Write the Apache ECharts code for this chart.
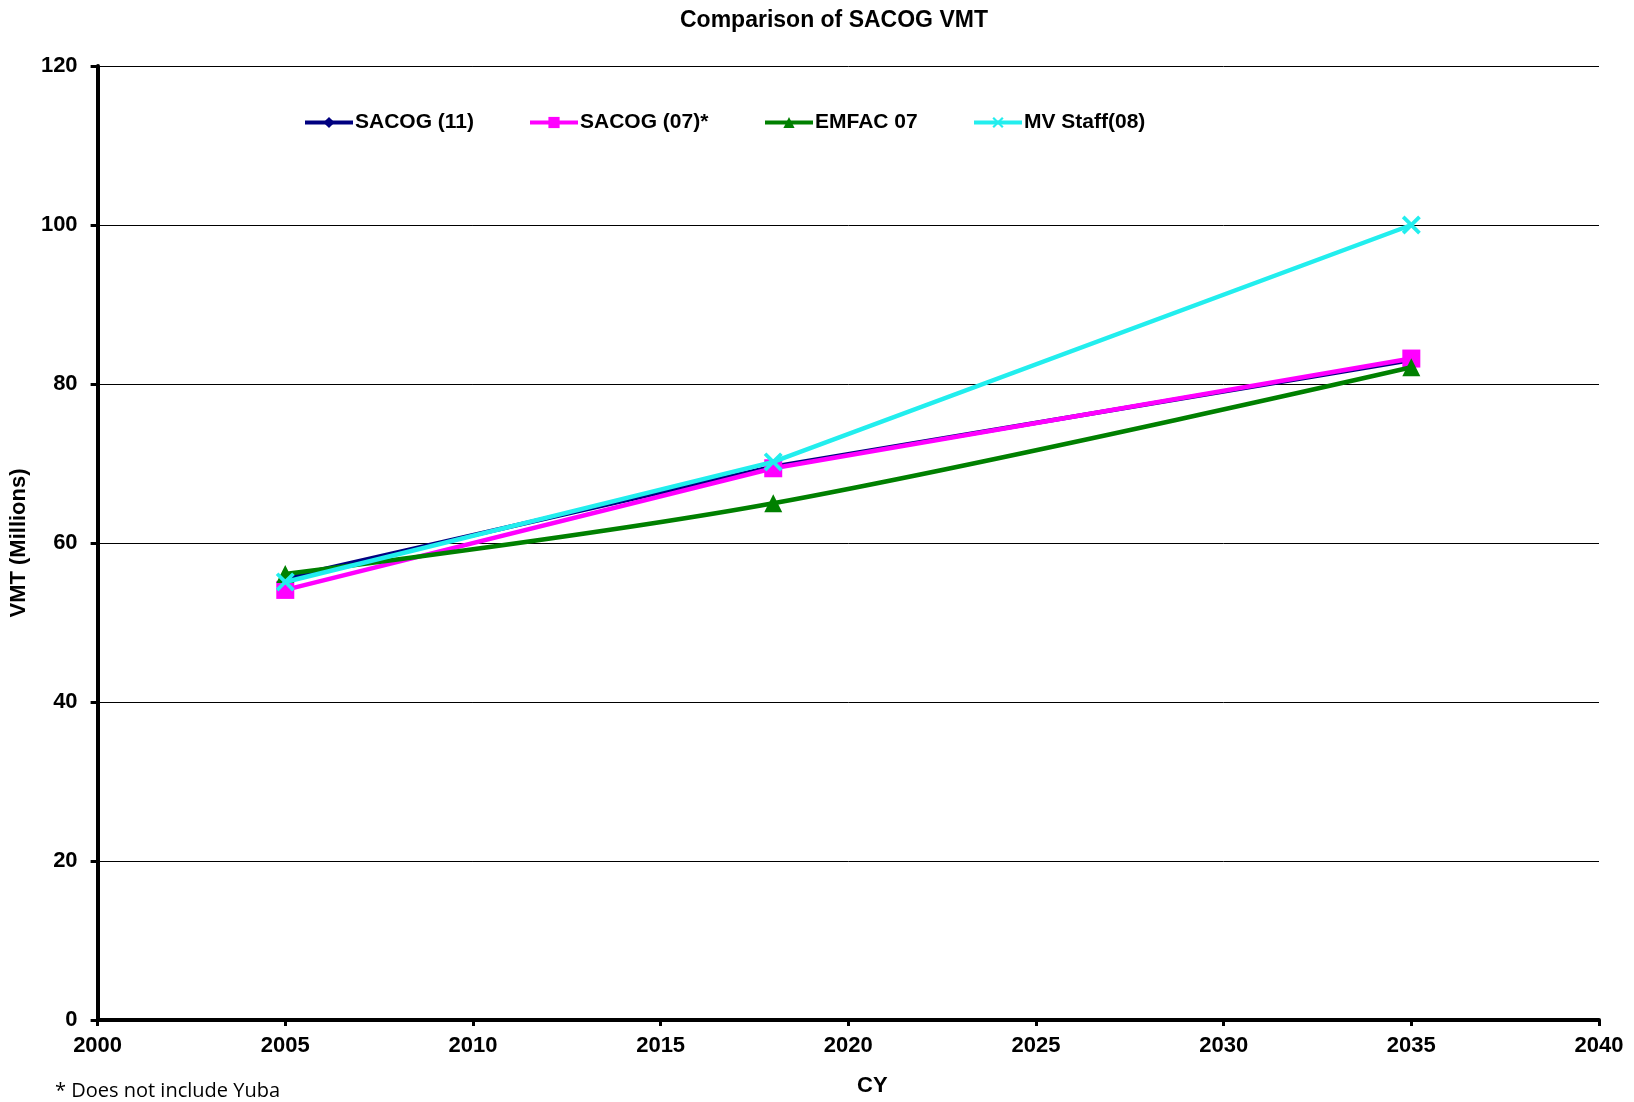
<!DOCTYPE html>
<html>
<head>
<meta charset="utf-8">
<script src="https://cdn.jsdelivr.net/npm/echarts@6/dist/echarts.min.js"></script>
<style>
html,body{margin:0;padding:0;background:#fff;}
#chart{width:1634px;height:1102px;}
</style>
</head>
<body>
<div id="chart"></div>
<script>
const years = [2005, 2018, 2035];
const seriesNames = ['SACOG (11)', 'SACOG (07)*', 'EMFAC 07', 'MV Staff(08)'];
const sacog11 = [55.6, 69.6, 83.0];
const sacog07 = [54.1, 69.4, 83.2];
const emfac07 = [56.1, 65.0, 82.1];
const mvStaff = [55.1, 70.2, 100.0];
const xTicks = [2000, 2040, 5];
const yTicks = [0, 120, 20];

const FONT = '"Liberation Sans", Arial, sans-serif';
const xPath = 'path://M0,1.4 L1.4,0 L5,3.6 L8.6,0 L10,1.4 L6.4,5 L10,8.6 L8.6,10 L5,6.4 L1.4,10 L0,8.6 L3.6,5 Z';

function pts(vals){ return years.map((y,i)=>[y, vals[i]]); }

const chart = echarts.init(document.getElementById('chart'), null, {renderer:'canvas'});
const legendLefts = [298, 523, 758, 967];
const legendStyle = {fontFamily: FONT, fontWeight: 'bold', fontSize: 21, color: '#000', padding: [0,0,0,-3]};

const option = {
  backgroundColor: '#fff',
  animation: false,
  title: {
    text: 'Comparison of SACOG VMT',
    left: 675, top: 4,
    textStyle: {fontFamily: FONT, fontWeight: 'bold', fontSize: 23, color: '#000'}
  },
  legend: seriesNames.map((n, i) => ({
    data: [n], left: legendLefts[i], top: 107, itemWidth: 48, itemHeight: 14,
    itemGap: 0, textStyle: legendStyle, selectedMode: false,
    lineStyle: {width: 4}
  })),
  grid: {left: 93, right: 35, top: 66, bottom: 82, containLabel: false},
  xAxis: {
    type: 'value', min: xTicks[0], max: xTicks[1], interval: xTicks[2],
    name: 'CY', nameLocation: 'middle', nameGap: 55,
    nameTextStyle: {fontFamily: FONT, fontWeight: 'bold', fontSize: 22, color: '#000', padding: [0,0,0,48]},
    axisLine: {show: true, lineStyle: {color: '#000', width: 4}},
    axisTick: {show: true, length: 6, lineStyle: {color: '#000', width: 3}},
    axisLabel: {fontFamily: FONT, fontWeight: 'bold', fontSize: 22, color: '#000', margin: 15,
      formatter: v => String(v)},
    splitLine: {show: false}
  },
  yAxis: {
    type: 'value', min: yTicks[0], max: yTicks[1], interval: yTicks[2],
    name: 'VMT (Millions)', nameLocation: 'middle', nameGap: 49,
    nameTextStyle: {fontFamily: FONT, fontWeight: 'bold', fontSize: 22, color: '#000'},
    axisLine: {show: true, lineStyle: {color: '#000', width: 4}},
    axisTick: {show: true, length: 7, lineStyle: {color: '#000', width: 3}},
    axisLabel: {fontFamily: FONT, fontWeight: 'bold', fontSize: 22, color: '#000', margin: 20},
    splitLine: {show: true, lineStyle: {color: '#000', width: 1}}
  },
  series: [
    {name: seriesNames[0], type: 'line', data: pts(sacog11), symbol: 'diamond', symbolSize: 10,
      lineStyle: {color: '#000080', width: 4.5}, itemStyle: {color: '#000080'}, z: 2},
    {name: seriesNames[1], type: 'line', data: pts(sacog07), symbol: 'rect', symbolSize: 18,
      lineStyle: {color: '#FF00FF', width: 4.5}, itemStyle: {color: '#FF00FF'}, z: 3},
    {name: seriesNames[2], type: 'line', data: pts(emfac07), symbol: 'triangle', symbolSize: 18,
      smooth: 0.35, lineStyle: {color: '#008000', width: 4.5}, itemStyle: {color: '#008000'}, z: 4},
    {name: seriesNames[3], type: 'line', data: pts(mvStaff), symbol: xPath, symbolSize: 19,
      lineStyle: {color: '#22EEEE', width: 4.5}, itemStyle: {color: '#22EEEE'}, z: 5}
  ],
  graphic: [{
    type: 'text', left: 55, top: 1081,
    style: {text: '* Does not include Yuba', font: '20px "Open Sans", "Noto Sans", sans-serif', fill: '#000'}
  }]
};
chart.setOption(option);
</script>
</body>
</html>
